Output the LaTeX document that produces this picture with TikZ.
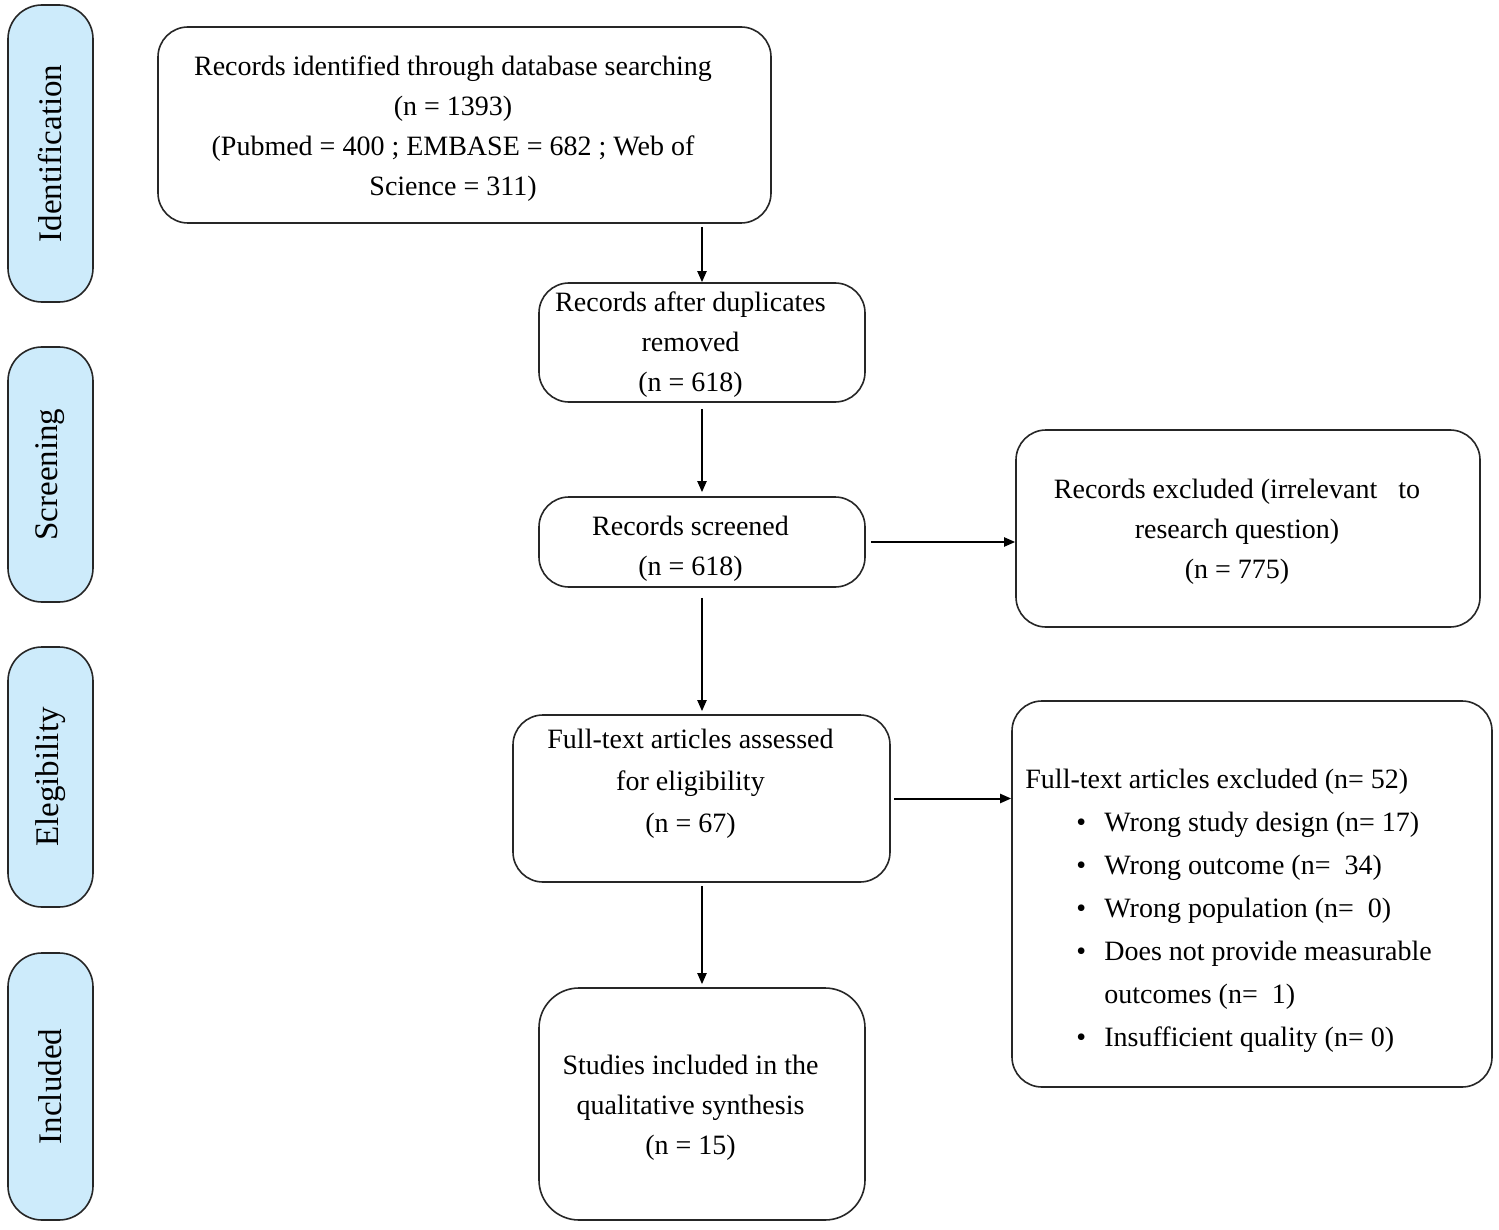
\documentclass[tikz,border=0pt]{standalone}
\usepackage{fontspec}
\setmainfont{Liberation Serif}
\usetikzlibrary{arrows.meta,calc}
\definecolor{phaseblue}{HTML}{CDEBFB}
\definecolor{edgegray}{HTML}{262626}
\begin{document}
\begin{tikzpicture}[x=0.5pt,y=-0.5pt,
 box/.style={draw=edgegray, line width=0.8pt, rounded corners=15pt, inner sep=0pt},
 phase/.style={draw=edgegray, fill=phaseblue, line width=0.8pt, rounded corners=17pt, inner sep=0pt, minimum width=42.5pt},
 phasetext/.style={rotate=90, font=\fontsize{16.5}{20}\selectfont, inner sep=0pt},
 txt/.style={align=center, font=\fontsize{14}{20}\selectfont, inner sep=0pt},
 arr/.style={line width=1pt, -{Triangle[length=5.5pt,width=4.5pt]}, shorten <=1.5pt}
]
\useasboundingbox (0,0) rectangle (1499,1230);
\fill[white] (0,0) rectangle (1499,1230);

% phase bars
\node[phase, minimum height=148.5pt] (p1) at (50.5,153.5) {};
\node[phasetext] (p1t) at (p1.center) {Identification};
\node[phase, minimum height=127.5pt] (p2) at (50.5,474.5) {};
\node[phasetext] (p2t) at (p2.center) {Screening};
\node[phase, minimum height=130pt] (p3) at (50.5,777) {};
\node[phasetext] (p3t) at (p3.center) {Elegibility};
\node[phase, minimum height=133.5pt] (p4) at (50.5,1086.5) {};
\node[phasetext] (p4t) at (p4.center) {Included};

% boxes
\node[box, minimum width=306.5pt, minimum height=98pt] (b1) at (464.5,125) {};
\node[txt] (b1t) at (453,129) {Records identified through database searching\\(n = 1393)\\(Pubmed = 400 ; EMBASE = 682 ; Web of\\Science = 311)};

\node[box, minimum width=163pt, minimum height=59.5pt] (b2) at (702,342.5) {};
\node[txt] (b2t) at (690.5,345) {Records after duplicates\\removed\\(n = 618)};

\node[box, minimum width=163pt, minimum height=45pt] (b3) at (702,542) {};
\node[txt] (b3t) at (690.5,548.5) {Records screened\\(n = 618)};

\node[box, minimum width=232pt, minimum height=98.5pt] (b4) at (1248,528.5) {};
\node[txt] (b4t) at (1237,532) {Records excluded (irrelevant\ \ \ to\\research question)\\(n = 775)};

\node[box, minimum width=188.5pt, minimum height=83.5pt] (b5) at (701.5,798.5) {};
\node[txt, font=\fontsize{14}{21}\selectfont] (b5t) at (690.5,783.5) {Full-text articles assessed\\for eligibility\\(n = 67)};

\node[box, minimum width=240pt, minimum height=193pt] (b6) at (1252,894) {};
\node[txt, align=left, font=\fontsize{14}{21.5}\selectfont, anchor=west] (b6t) at (1025,910.5) {Full-text articles excluded (n= 52)\\
\hspace*{25.5pt}\makebox[14pt][l]{\textbullet}Wrong study design (n= 17)\\
\hspace*{25.5pt}\makebox[14pt][l]{\textbullet}Wrong outcome (n=\ \ 34)\\
\hspace*{25.5pt}\makebox[14pt][l]{\textbullet}Wrong population (n=\ \ 0)\\
\hspace*{25.5pt}\makebox[14pt][l]{\textbullet}Does not provide measurable\\
\hspace*{39.5pt}outcomes (n=\ \ 1)\\
\hspace*{25.5pt}\makebox[14pt][l]{\textbullet}Insufficient quality (n= 0)};

\node[box, minimum width=163pt, minimum height=116pt, rounded corners=20pt] (b7) at (702,1104) {};
\node[txt] (b7t) at (690.5,1108) {Studies included in the\\qualitative synthesis\\(n = 15)};

% connectors
\draw[arr] (b1.south -| b2.north) -- (b2.north);
\draw[arr, shorten <=3pt, shorten >=2pt] (b2.south) -- (b3.north);
\draw[arr, shorten <=2.5pt] (b3.east) -- (b3.east -| b4.west);
\draw[arr, shorten <=5pt, shorten >=1.5pt] (b3.south) -- (b3.south |- b5.north);
\draw[arr] (b5.east) -- (b5.east -| b6.west);
\draw[arr, shorten >=1.5pt] (b5.south -| b7.north) -- (b7.north);
\end{tikzpicture}
\end{document}
